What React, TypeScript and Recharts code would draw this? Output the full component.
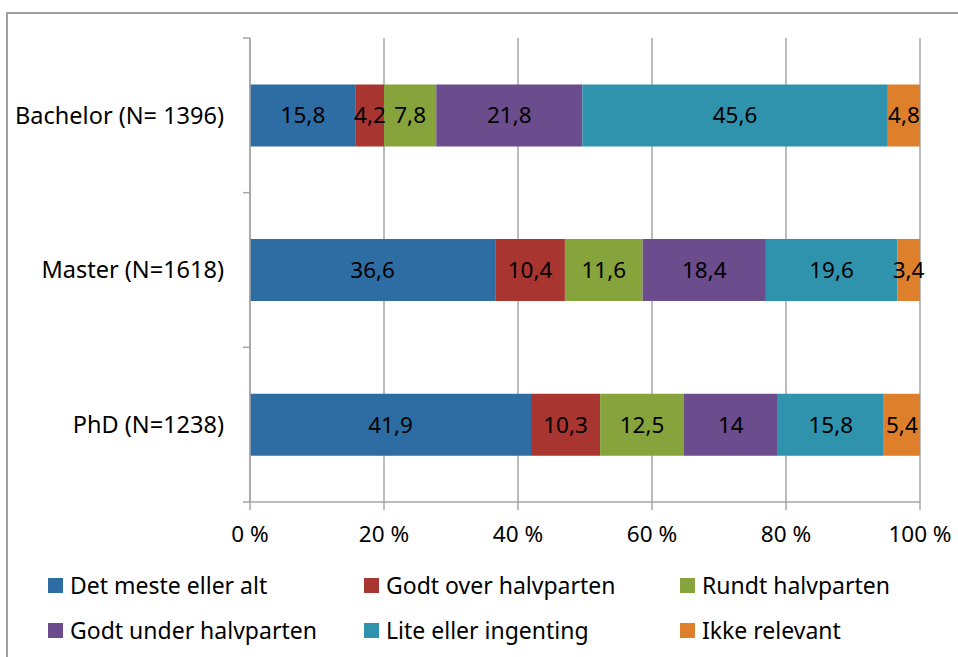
import React from "react";
import { BarChart, Bar, XAxis, YAxis, CartesianGrid, LabelList } from "recharts";

const GROUPS = ["Bachelor (N= 1396)", "Master (N=1618)", "PhD (N=1238)"];
const SERIES = [
  "Det meste eller alt",
  "Godt over halvparten",
  "Rundt halvparten",
  "Godt under halvparten",
  "Lite eller ingenting",
  "Ikke relevant",
];
const COLORS = ["#2e6da4", "#a8352f", "#86a33c", "#6b4c8c", "#2f93ae", "#de7f2b"];

const BACHELOR = [15.8, 4.2, 7.8, 21.8, 45.6, 4.8];
const MASTER = [36.6, 10.4, 11.6, 18.4, 19.6, 3.4];
const PHD = [41.9, 10.3, 12.5, 14, 15.8, 5.4];
const X_TICKS = [0, 0.2, 0.4, 0.6, 0.8, 1];

const rows = [BACHELOR, MASTER, PHD].map((vals, i) => {
  const r: Record<string, any> = { name: GROUPS[i] };
  SERIES.forEach((s, j) => (r["s" + j] = vals[j]));
  return r;
});

const FONT = "'Noto Sans', sans-serif";
const GRID = "#a6a6a6";
const TICK_MARGIN = 26;
const pct = (v: number) => `${Math.round(v * 100)} %`;
const comma = (v: any) => String(v).replace(".", ",");

// kategori-label + tick-streker på kantene av hvert bånd (som Excel)
function CatTick(props: any) {
  const { x, y, payload, index } = props;
  const half = payload?.offset ?? 0;
  const ax = x + TICK_MARGIN;
  return (
    <g>
      <line x1={ax - 7} x2={ax} y1={y - half} y2={y - half} stroke={GRID} strokeWidth={1.5} />
      {index === GROUPS.length - 1 && (
        <line x1={ax - 7} x2={ax} y1={y + half} y2={y + half} stroke={GRID} strokeWidth={1.5} />
      )}
      <text x={x} y={y} dy="0.35em" textAnchor="end" fill="#000" fontSize={23.5} fontFamily={FONT}>
        {payload.value}
      </text>
    </g>
  );
}

function LegendBox() {
  return (
    <div style={{ position: "absolute", left: 0, top: 0, width: 958, height: 657, pointerEvents: "none" }}>
      {SERIES.map((s, i) => {
        const col = i % 3;
        const row = Math.floor(i / 3);
        return (
          <div key={s} style={{ position: "absolute", left: 48 + col * 316, top: 569 + row * 45, height: 32, display: "flex", alignItems: "center", fontFamily: FONT, fontSize: 23, color: "#000", whiteSpace: "nowrap" }}>
            <span style={{ display: "inline-block", width: 15, height: 15, background: COLORS[i], marginRight: 7 }} />
            {s}
          </div>
        );
      })}
    </div>
  );
}

export default function App() {
  return (
    <div style={{ position: "absolute", left: 0, top: 0, width: 958, height: 657, background: "#fff", overflow: "hidden" }}>
      <div style={{ position: "absolute", left: 6, top: 12, width: 960, height: 660, borderTop: "2px solid #a0a0a0", borderLeft: "2px solid #a0a0a0" }} />
      <BarChart
        width={958}
        height={657}
        data={rows}
        layout="vertical"
        stackOffset="expand"
        barCategoryGap="30%"
        margin={{ top: 38, right: 38, bottom: 100, left: 0 }}
        style={{ position: "absolute", left: 0, top: 0, fontFamily: FONT }}
      >
        <CartesianGrid horizontal={false} stroke={GRID} strokeWidth={1.5} />
        <XAxis
          type="number"
          domain={[0, 1]}
          ticks={X_TICKS}
          tickFormatter={pct}
          stroke={GRID}
          strokeWidth={1.5}
          tickSize={8}
          tickMargin={16}
          height={55}
          tick={{ fill: "#000", fontSize: 22.5 }}
        />
        <YAxis
          type="category"
          dataKey="name"
          width={250}
          stroke={GRID}
          strokeWidth={1.5}
          tickLine={false}
          tickSize={0}
          tickMargin={TICK_MARGIN}
          tick={<CatTick />}
        />
        {SERIES.map((s, i) => (
          <Bar key={s} dataKey={"s" + i} name={s} stackId="a" fill={COLORS[i]} isAnimationActive={false}>
            <LabelList dataKey={"s" + i} position="center" formatter={comma} fill="#000" fontSize={22.5} />
          </Bar>
        ))}
      </BarChart>
      <LegendBox />
    </div>
  );
}
